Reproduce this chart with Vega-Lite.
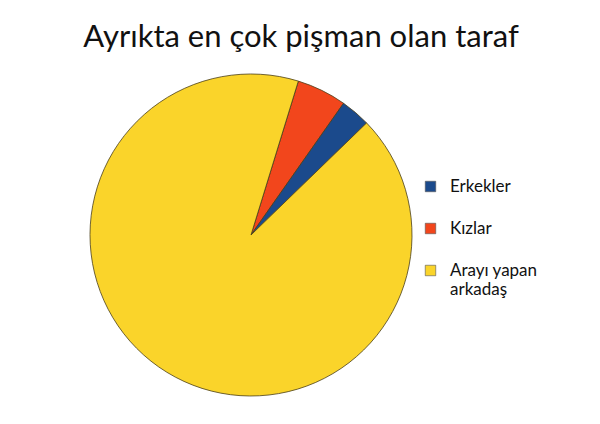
{
  "$schema": "https://vega.github.io/schema/vega-lite/v6.json",
  "autosize": "none",
  "width": 502,
  "height": 322,
  "padding": {"left": 0, "top": 74, "right": 98, "bottom": 28},
  "background": "white",
  "title": {
    "text": "Ayrıkta en çok pişman olan taraf",
    "font": "Lato",
    "fontSize": 31,
    "fontWeight": "normal",
    "color": "#111111",
    "anchor": "middle",
    "dx": 50,
    "offset": 18
  },
  "data": {
    "values": [
      {"taraf": "Kızlar", "oran": 5.0, "sira": 1},
      {"taraf": "Erkekler", "oran": 3.0, "sira": 2},
      {"taraf": "Arayı yapan arkadaş", "oran": 92.0, "sira": 3}
    ]
  },
  "mark": {"type": "arc", "outerRadius": 161, "stroke": "#4a3f1a", "strokeWidth": 0.8},
  "encoding": {
    "theta": {
      "field": "oran",
      "type": "quantitative",
      "stack": true,
      "scale": {"range": [0.2985, 6.5817]}
    },
    "order": {"field": "sira", "type": "quantitative"},
    "color": {
      "field": "taraf",
      "type": "nominal",
      "scale": {
        "domain": ["Erkekler", "Kızlar", "Arayı yapan arkadaş"],
        "range": ["#1b4a8c", "#f2461c", "#fad42a"]
      },
      "legend": {
        "title": null,
        "orient": "none",
        "legendX": 422,
        "legendY": 104,
        "symbolType": "square",
        "symbolSize": 110,
        "symbolStrokeWidth": 0.6,
        "symbolStrokeColor": "#555555",
        "labelFont": "Lato",
        "labelFontSize": 17,
        "labelColor": "#111111",
        "labelOffset": 11,
        "labelLineHeight": 22,
        "labelLimit": 200,
        "rowPadding": 24,
        "labelExpr": "datum.label == 'Arayı yapan arkadaş' ? ['Arayı yapan', 'arkadaş'] : datum.label"
      }
    }
  },
  "config": {"view": {"stroke": null}}
}
